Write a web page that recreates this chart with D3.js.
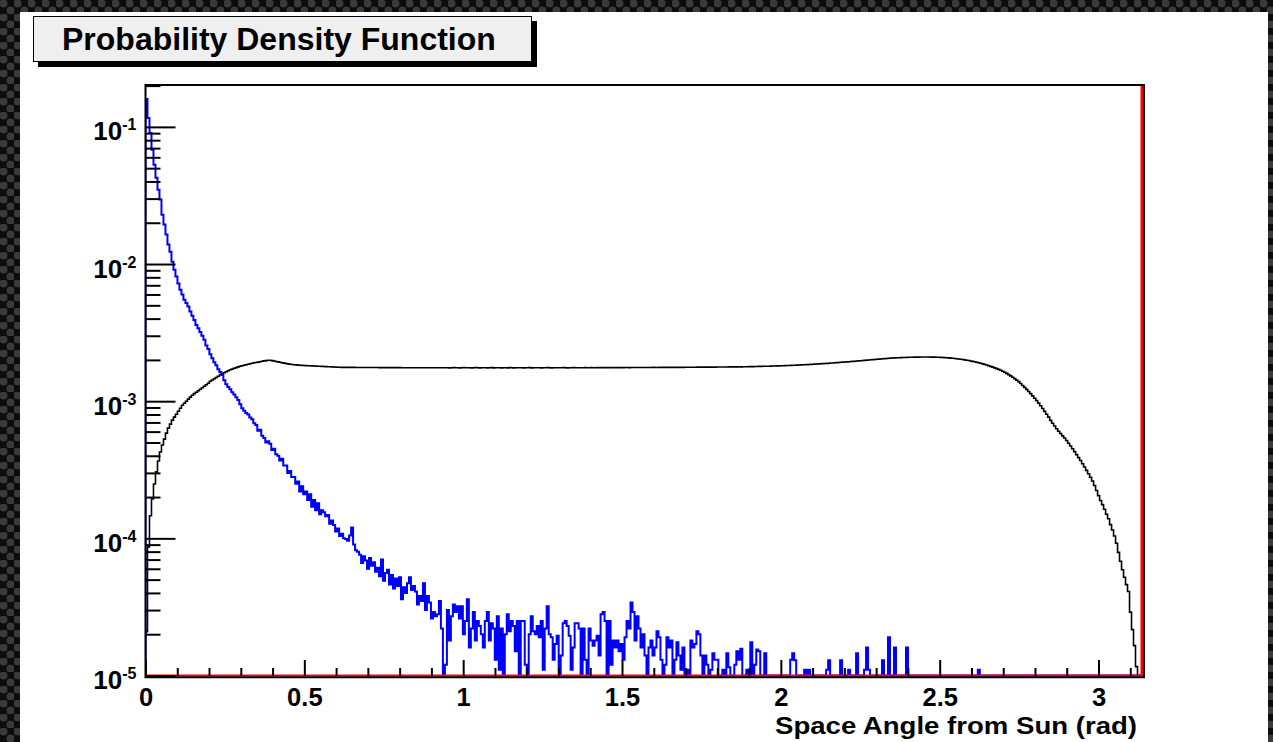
<!DOCTYPE html>
<html>
<head>
<meta charset="utf-8">
<script src="https://cdn.jsdelivr.net/npm/d3@7"></script>
<style>
  html, body { margin: 0; padding: 0; background: #000; }
  svg { display: block; }
  text { font-family: "Liberation Sans", Arial, Helvetica, sans-serif; font-weight: bold; fill: #000; }
</style>
</head>
<body>
<svg id="chart" width="1273" height="742"></svg>
<script>
// ---------------- data ----------------
const titleText = "Probability Density Function";
const xAxisTitle = "Space Angle from Sun (rad)";
const xDomain = [0, 3.1416];
const binCount = 500;

const xTickValues = [0, 0.5, 1, 1.5, 2, 2.5, 3];
const xTickLabels = ["0", "0.5", "1", "1.5", "2", "2.5", "3"];
const yDecadeExponents = [-5, -4, -3, -2, -1];
const yDomain = [1e-5, 0.202];

// black histogram: broad distribution over the full angle range
const blackPdf = [
  2.09e-5, 8.67e-5, 1.46e-4, 1.94e-4, 2.49e-4, 3.05e-4, 3.66e-4, 4.26e-4, 4.79e-4, 5.29e-4,
  5.85e-4, 6.36e-4, 6.80e-4, 7.28e-4, 7.65e-4, 8.04e-4, 8.45e-4, 8.89e-4, 9.35e-4, 9.67e-4,
  1.000e-3, 1.035e-3, 1.070e-3, 1.106e-3, 1.135e-3, 1.162e-3, 1.192e-3, 1.222e-3, 1.254e-3, 1.285e-3,
  1.318e-3, 1.352e-3, 1.397e-3, 1.426e-3, 1.458e-3, 1.487e-3, 1.520e-3, 1.559e-3, 1.585e-3, 1.611e-3,
  1.640e-3, 1.667e-3, 1.694e-3, 1.714e-3, 1.738e-3, 1.758e-3, 1.779e-3, 1.797e-3, 1.812e-3, 1.827e-3,
  1.842e-3, 1.858e-3, 1.874e-3, 1.890e-3, 1.906e-3, 1.915e-3, 1.928e-3, 1.941e-3, 1.954e-3, 1.967e-3,
  1.977e-3, 1.987e-3, 1.990e-3, 1.977e-3, 1.964e-3, 1.948e-3, 1.935e-3, 1.922e-3, 1.909e-3, 1.896e-3,
  1.883e-3, 1.871e-3, 1.858e-3, 1.852e-3, 1.846e-3, 1.840e-3, 1.833e-3, 1.827e-3, 1.824e-3, 1.821e-3,
  1.818e-3, 1.815e-3, 1.812e-3, 1.809e-3, 1.806e-3, 1.803e-3, 1.800e-3, 1.797e-3, 1.794e-3, 1.791e-3,
  1.788e-3, 1.785e-3, 1.782e-3, 1.779e-3, 1.776e-3, 1.773e-3, 1.770e-3, 1.767e-3, 1.765e-3, 1.765e-3,
  1.764e-3, 1.764e-3, 1.763e-3, 1.763e-3, 1.763e-3, 1.762e-3, 1.762e-3, 1.762e-3, 1.761e-3, 1.761e-3,
  1.761e-3, 1.760e-3, 1.760e-3, 1.760e-3, 1.759e-3, 1.759e-3, 1.759e-3, 1.758e-3, 1.758e-3, 1.758e-3,
  1.757e-3, 1.757e-3, 1.757e-3, 1.757e-3, 1.756e-3, 1.756e-3, 1.756e-3, 1.756e-3, 1.755e-3, 1.755e-3,
  1.755e-3, 1.755e-3, 1.755e-3, 1.754e-3, 1.754e-3, 1.754e-3, 1.754e-3, 1.754e-3, 1.754e-3, 1.753e-3,
  1.753e-3, 1.753e-3, 1.753e-3, 1.753e-3, 1.753e-3, 1.753e-3, 1.752e-3, 1.752e-3, 1.752e-3, 1.752e-3,
  1.752e-3, 1.755e-3, 1.750e-3, 1.753e-3, 1.757e-3, 1.751e-3, 1.754e-3, 1.749e-3, 1.753e-3, 1.756e-3,
  1.751e-3, 1.754e-3, 1.752e-3, 1.748e-3, 1.753e-3, 1.756e-3, 1.752e-3, 1.750e-3, 1.754e-3, 1.751e-3,
  1.755e-3, 1.749e-3, 1.752e-3, 1.756e-3, 1.750e-3, 1.753e-3, 1.751e-3, 1.755e-3, 1.748e-3, 1.752e-3,
  1.754e-3, 1.750e-3, 1.756e-3, 1.752e-3, 1.749e-3, 1.753e-3, 1.755e-3, 1.751e-3, 1.753e-3, 1.750e-3,
  1.754e-3, 1.752e-3, 1.757e-3, 1.750e-3, 1.753e-3, 1.751e-3, 1.755e-3, 1.752e-3, 1.749e-3, 1.754e-3,
  1.751e-3, 1.756e-3, 1.753e-3, 1.750e-3, 1.754e-3, 1.752e-3, 1.755e-3, 1.751e-3, 1.753e-3, 1.757e-3,
  1.752e-3, 1.750e-3, 1.754e-3, 1.753e-3, 1.756e-3, 1.751e-3, 1.754e-3, 1.752e-3, 1.755e-3, 1.753e-3,
  1.757e-3, 1.752e-3, 1.754e-3, 1.756e-3, 1.753e-3, 1.755e-3, 1.758e-3, 1.754e-3, 1.756e-3, 1.755e-3,
  1.757e-3, 1.754e-3, 1.758e-3, 1.756e-3, 1.755e-3, 1.759e-3, 1.757e-3, 1.756e-3, 1.760e-3, 1.758e-3,
  1.759e-3, 1.761e-3, 1.758e-3, 1.762e-3, 1.760e-3, 1.761e-3, 1.759e-3, 1.761e-3, 1.760e-3, 1.762e-3,
  1.760e-3, 1.762e-3, 1.759e-3, 1.761e-3, 1.763e-3, 1.760e-3, 1.762e-3, 1.764e-3, 1.761e-3, 1.763e-3,
  1.762e-3, 1.764e-3, 1.763e-3, 1.765e-3, 1.762e-3, 1.766e-3, 1.764e-3, 1.765e-3, 1.767e-3, 1.764e-3,
  1.766e-3, 1.768e-3, 1.766e-3, 1.769e-3, 1.767e-3, 1.769e-3, 1.771e-3, 1.768e-3, 1.771e-3, 1.770e-3,
  1.772e-3, 1.771e-3, 1.773e-3, 1.772e-3, 1.774e-3, 1.773e-3, 1.775e-3, 1.774e-3, 1.776e-3, 1.775e-3,
  1.777e-3, 1.776e-3, 1.778e-3, 1.777e-3, 1.779e-3, 1.778e-3, 1.780e-3, 1.781e-3, 1.780e-3, 1.782e-3,
  1.783e-3, 1.784e-3, 1.786e-3, 1.787e-3, 1.788e-3, 1.790e-3, 1.791e-3, 1.793e-3, 1.794e-3, 1.796e-3,
  1.797e-3, 1.799e-3, 1.800e-3, 1.802e-3, 1.804e-3, 1.806e-3, 1.808e-3, 1.810e-3, 1.812e-3, 1.814e-3,
  1.817e-3, 1.819e-3, 1.822e-3, 1.825e-3, 1.827e-3, 1.830e-3, 1.833e-3, 1.836e-3, 1.839e-3, 1.842e-3,
  1.846e-3, 1.849e-3, 1.852e-3, 1.856e-3, 1.860e-3, 1.863e-3, 1.867e-3, 1.871e-3, 1.875e-3, 1.879e-3,
  1.883e-3, 1.888e-3, 1.892e-3, 1.897e-3, 1.901e-3, 1.906e-3, 1.911e-3, 1.916e-3, 1.921e-3, 1.926e-3,
  1.931e-3, 1.936e-3, 1.941e-3, 1.947e-3, 1.952e-3, 1.957e-3, 1.963e-3, 1.968e-3, 1.974e-3, 1.979e-3,
  1.985e-3, 1.991e-3, 1.997e-3, 2.003e-3, 2.009e-3, 2.015e-3, 2.021e-3, 2.027e-3, 2.033e-3, 2.039e-3,
  2.045e-3, 2.050e-3, 2.055e-3, 2.060e-3, 2.064e-3, 2.068e-3, 2.072e-3, 2.075e-3, 2.078e-3, 2.081e-3,
  2.084e-3, 2.087e-3, 2.089e-3, 2.091e-3, 2.093e-3, 2.095e-3, 2.096e-3, 2.097e-3, 2.098e-3, 2.099e-3,
  2.099e-3, 2.099e-3, 2.098e-3, 2.097e-3, 2.096e-3, 2.094e-3, 2.092e-3, 2.089e-3, 2.086e-3, 2.082e-3,
  2.078e-3, 2.073e-3, 2.068e-3, 2.062e-3, 2.055e-3, 2.048e-3, 2.040e-3, 2.031e-3, 2.022e-3, 2.012e-3,
  2.001e-3, 1.990e-3, 1.978e-3, 1.965e-3, 1.951e-3, 1.937e-3, 1.922e-3, 1.906e-3, 1.889e-3, 1.871e-3,
  1.853e-3, 1.834e-3, 1.814e-3, 1.793e-3, 1.772e-3, 1.750e-3, 1.728e-3, 1.705e-3, 1.680e-3, 1.653e-3,
  1.624e-3, 1.594e-3, 1.562e-3, 1.530e-3, 1.496e-3, 1.461e-3, 1.425e-3, 1.388e-3, 1.345e-3, 1.303e-3,
  1.261e-3, 1.220e-3, 1.178e-3, 1.135e-3, 1.093e-3, 1.051e-3, 1.010e-3, 9.68e-4, 9.26e-4, 8.84e-4,
  8.43e-4, 8.03e-4, 7.65e-4, 7.25e-4, 6.90e-4, 6.60e-4, 6.30e-4, 6.03e-4, 5.81e-4, 5.59e-4,
  5.39e-4, 5.17e-4, 4.94e-4, 4.71e-4, 4.50e-4, 4.29e-4, 4.08e-4, 3.88e-4, 3.69e-4, 3.50e-4,
  3.31e-4, 3.13e-4, 2.96e-4, 2.79e-4, 2.62e-4, 2.43e-4, 2.23e-4, 2.05e-4, 1.89e-4, 1.76e-4,
  1.63e-4, 1.50e-4, 1.39e-4, 1.26e-4, 1.15e-4, 1.04e-4, 9.2e-5, 7.9e-5, 6.8e-5, 5.9e-5,
  5.2e-5, 4.6e-5, 4.1e-5, 2.9e-5, 2.16e-5, 1.65e-5, 1.16e-5, 8e-6, 5e-6, 2e-6
];

// blue histogram: sharply peaked towards the Sun, noisy tail
const bluePdf = [
  0.160, 0.116, 0.0904, 0.068, 0.053, 0.0426, 0.0348, 0.0295, 0.0229, 0.0194,
  0.0164, 0.0139, 0.0123, 0.0104, 0.0091, 0.0081, 0.0072, 0.0065, 0.0060, 0.0055,
  0.0052, 0.0049, 0.0045, 0.0042, 0.0039, 0.0036, 0.0034, 0.0032, 0.0030, 0.0028,
  0.00255, 0.0024, 0.0022, 0.00206, 0.00192, 0.00183, 0.00171, 0.00163, 0.00155, 0.00142,
  0.00133, 0.00127, 0.00122, 0.00116, 0.00112, 0.00107, 0.00102, 0.00095, 0.00089, 0.00085,
  0.00082, 0.00080, 0.00076, 0.00074, 0.00069, 0.00067, 0.00061, 0.00062, 0.00056, 0.00054,
  0.00050, 0.00051, 0.00049, 0.00044, 0.00045, 0.00041, 0.00040, 0.00037, 0.00038, 0.00034,
  0.00034, 0.00030, 0.00031, 0.00028, 0.00028, 0.00025, 0.00026, 0.00022, 0.00024, 0.00021,
  0.00022, 0.00019, 0.00021, 0.00017, 0.00019, 0.00016, 0.00018, 0.00015, 0.00016, 0.000155,
  0.000145, 0.000148, 0.000128, 0.000135, 0.000125, 0.000112, 0.000118, 0.000104, 0.000108, 0.000100,
  9.9e-5, 9.6e-5, 1.05e-4, 1.2e-4, 9.0e-5, 8.2e-5, 8.0e-5, 7.6e-5, 6.6e-5, 7.4e-5,
  6.9e-5, 6.0e-5, 7.2e-5, 6.3e-5, 6.7e-5, 5.7e-5, 6.1e-5, 5.3e-5, 7.0e-5, 4.9e-5,
  5.6e-5, 5.9e-5, 4.6e-5, 5.4e-5, 4.3e-5, 5.1e-5, 4.5e-5, 5.2e-5, 3.6e-5, 4.4e-5,
  4.0e-5, 4.7e-5, 5.2e-5, 4.2e-5, 4.5e-5, 4.1e-5, 3.3e-5, 3.8e-5, 3.5e-5, 4.7e-5,
  3.0e-5, 3.8e-5, 3.4e-5, 2.6e-5, 2.9e-5, 2.7e-5, 2.8e-5, 3.5e-5, 2.2e-5, 0,
  1.2e-5, 3.0e-5, 1.8e-5, 2.7e-5, 3.3e-5, 2.9e-5, 3.2e-5, 2.6e-5, 3.2e-5, 2.0e-5,
  2.5e-5, 3.6e-5, 1.6e-5, 2.2e-5, 2.9e-5, 1.8e-5, 2.5e-5, 2.3e-5, 2.0e-5, 1.6e-5,
  2.5e-5, 2.9e-5, 1.8e-5, 2.4e-5, 2.2e-5, 1.3e-5, 2.7e-5, 1.1e-5, 2.2e-5, 0,
  2.0e-5, 2.8e-5, 2.1e-5, 2.5e-5, 2.3e-5, 1.5e-5, 2.5e-5, 0, 2.5e-5, 2.5e-5,
  1.2e-5, 0, 2.0e-5, 2.7e-5, 2.1e-5, 2.0e-5, 2.3e-5, 1.9e-5, 2.5e-5, 1.1e-5,
  2.2e-5, 3.2e-5, 2.0e-5, 1.9e-5, 1.3e-5, 1.7e-5, 1.95e-5, 0, 1.4e-5, 2.4e-5,
  2.5e-5, 2.3e-5, 1.95e-5, 1.1e-5, 1.6e-5, 2.4e-5, 2.4e-5, 2.2e-5, 0, 2.2e-5,
  1.3e-5, 0, 2.2e-5, 1.8e-5, 1.65e-5, 1.8e-5, 1.95e-5, 1.4e-5, 2.8e-5, 2.9e-5,
  2.5e-5, 0, 2.5e-5, 1.2e-5, 1.8e-5, 1.6e-5, 1.8e-5, 1.5e-5, 1.7e-5, 1.3e-5,
  1.9e-5, 2.5e-5, 2.2e-5, 3.4e-5, 2.9e-5, 1.8e-5, 2.7e-5, 2.2e-5, 1.6e-5, 2.0e-5,
  1.4e-5, 0, 1.6e-5, 1.8e-5, 1.4e-5, 1.6e-5, 2.1e-5, 1.9e-5, 1.3e-5, 0,
  1.2e-5, 1.9e-5, 1.6e-5, 1.8e-5, 0, 1.3e-5, 1.75e-5, 1.4e-5, 1.1e-5, 1.6e-5,
  0, 1.1e-5, 0, 1.8e-5, 1.6e-5, 1.7e-5, 2.1e-5, 2.0e-5, 1.4e-5, 0,
  1.4e-5, 1.2e-5, 0, 1.1e-5, 1.45e-5, 1.3e-5, 1.3e-5, 0, 0, 1.1e-5,
  0, 1.45e-5, 1.15e-5, 0, 0, 1.2e-5, 1.5e-5, 1.3e-5, 1.57e-5, 0,
  0, 1.1e-5, 0, 1.75e-5, 0, 1.2e-5, 1.55e-5, 1.5e-5, 0, 0,
  1.45e-5, 0, 0, 0, 0, 0, 0, 0, 0, 0,
  0, 0, 0, 1.3e-5, 1.45e-5, 1.29e-5, 0, 0, 0, 0,
  1.1e-5, 0, 1.1e-5, 0, 0, 0, 0, 0, 0, 0,
  0, 1.1e-5, 1.29e-5, 0, 0, 0, 0, 0, 1.29e-5, 0,
  0, 0, 1.1e-5, 0, 0, 0, 1.45e-5, 0, 0, 0,
  1.1e-5, 1.6e-5, 1.1e-5, 0, 0, 0, 0, 0, 0, 1.29e-5,
  0, 0, 1.9e-5, 0, 0, 1.6e-5, 0, 0, 0, 0,
  0, 1.6e-5, 0, 0, 0, 0, 0, 0, 0, 0,
  0, 0, 0, 0, 0, 0, 0, 0, 0, 0,
  0, 0, 0, 0, 0, 0, 0, 0, 0, 0,
  0, 0, 0, 0, 0, 0, 0, 1.1e-5, 0, 0,
  0, 0, 0, 0, 0, 0, 0, 0, 0, 0,
  0, 0, 0, 0, 0, 0, 0, 0, 0, 0,
  0, 0, 0, 0, 0, 0, 0, 0, 0, 0,
  0, 0, 0, 0, 0, 0, 0, 0, 0, 0,
  0, 0, 0, 0, 0, 0, 0, 0, 0, 0,
  0, 0, 0, 0, 0, 0, 0, 0, 0, 0,
  0, 0, 0, 0, 0, 0, 0, 0, 0, 0,
  0, 0, 0, 0, 0, 0, 0, 0, 0, 0
];

// red histogram: empty except for its last bin at the anti-solar end
const redEdges = [0, 3.1353, 3.1416];
const redPdf = [0, 1.0];

if (blackPdf.length !== binCount || bluePdf.length !== binCount) {
  throw new Error("bin count mismatch: " + blackPdf.length + " / " + bluePdf.length);
}

// ---------------- layout ----------------
const W = 1273, H = 742;
const frame = { left: 145.5, right: 1143.5, top: 85, bottom: 675.5 };
const axisLineY = 677.3;

const svg = d3.select("#chart");
const defs = svg.append("defs");

// perforated dark backdrop around the canvas
const pat = defs.append("pattern")
  .attr("id", "holes").attr("patternUnits", "userSpaceOnUse")
  .attr("width", 14).attr("height", 14);
pat.append("rect").attr("width", 14).attr("height", 14).attr("fill", "#0c0c0c");
pat.append("circle").attr("cx", 3.5).attr("cy", 3.5).attr("r", 4).attr("fill", "#3a3a3a");
pat.append("circle").attr("cx", 10.5).attr("cy", 10.5).attr("r", 4).attr("fill", "#3a3a3a");

svg.append("rect").attr("width", W).attr("height", H).attr("fill", "url(#holes)");
svg.append("rect").attr("x", 20).attr("y", 12).attr("width", 1248).attr("height", H - 12).attr("fill", "#fff");

defs.append("clipPath").attr("id", "plotClip")
  .append("rect")
  .attr("x", frame.left).attr("y", frame.top)
  .attr("width", frame.right - frame.left).attr("height", frame.bottom - frame.top + 1.5);

// ---------------- scales ----------------
const x = d3.scaleLinear().domain(xDomain).range([frame.left, frame.right]);
const y = d3.scaleLog().domain(yDomain).range([frame.bottom, frame.top]);

const binEdges = d3.range(binCount + 1).map(i => xDomain[0] + i * (xDomain[1] - xDomain[0]) / binCount);

function stepPath(edges, values) {
  const yb = frame.bottom;
  const ytop = frame.top - 40;
  const py = v => (v <= yDomain[0] ? yb : Math.max(ytop, y(v)));
  let d = "M" + x(edges[0]) + "," + yb;
  values.forEach((v, i) => {
    d += "V" + py(v) + "H" + x(edges[i + 1]);
  });
  d += "V" + yb;
  return d;
}

const plot = svg.append("g").attr("clip-path", "url(#plotClip)");

plot.append("path")
  .attr("d", stepPath(binEdges, blackPdf))
  .attr("fill", "none").attr("stroke", "#000").attr("stroke-width", 1.6);

plot.append("path")
  .attr("d", stepPath(binEdges, bluePdf))
  .attr("fill", "none").attr("stroke", "#0000ff").attr("stroke-width", 2);

plot.append("path")
  .attr("d", stepPath(redEdges, redPdf))
  .attr("fill", "none").attr("stroke", "#ff0000").attr("stroke-width", 2);

// ---------------- axes ----------------
const xMinorTicks = d3.range(0, 32).map(i => i / 10).filter(v => v <= xDomain[1] && Math.abs(v * 2 - Math.round(v * 2)) > 1e-9);

const xAxisG = svg.append("g").attr("transform", "translate(0," + (frame.bottom + 0.5) + ")");
xAxisG.call(d3.axisBottom(x).tickValues(xMinorTicks).tickSize(-8).tickFormat(""))
  .call(g => g.select(".domain").remove());
xAxisG.append("g").call(d3.axisBottom(x).tickValues(xTickValues).tickSize(-16)
    .tickFormat((d, i) => xTickLabels[i]))
  .call(g => g.select(".domain").remove())
  .call(g => g.selectAll("text")
    .attr("y", 29.5).attr("dy", 0)
    .style("font-size", "25.5px").style("font-family", null).attr("fill", "#000"));
xAxisG.selectAll("line").attr("stroke", "#000").attr("stroke-width", 2);

const yMinorTicks = y.ticks().filter(v => Math.abs(Math.log10(v) - Math.round(Math.log10(v))) > 1e-6);
const yMajorTicks = yDecadeExponents.map(e => Math.pow(10, e));

const yAxisG = svg.append("g").attr("transform", "translate(" + frame.left + ",0)");
yAxisG.call(d3.axisLeft(y).tickValues(yMinorTicks).tickSize(-15).tickFormat(""))
  .call(g => g.select(".domain").remove());
const yMajorG = yAxisG.append("g");
yMajorG.call(d3.axisLeft(y).tickValues(yMajorTicks).tickSize(-30).tickFormat(""))
  .call(g => g.select(".domain").remove());
yAxisG.selectAll("line").attr("stroke", "#000").attr("stroke-width", 2);

// "10^k" labels for the decades
yMajorG.selectAll(".tick").each(function (d, i) {
  const t = d3.select(this).append("text")
    .attr("x", -9).attr("y", 13).attr("text-anchor", "end")
    .style("font-size", "26px").attr("fill", "#000");
  t.append("tspan").text("10");
  t.append("tspan").attr("dy", -10).style("font-size", "16px").text(String(yDecadeExponents[i]));
});

// frame: left/top/right edges and the bottom axis line
svg.append("path")
  .attr("d", "M" + frame.left + "," + axisLineY + "V" + frame.top + "H" + (frame.right + 0.5) + "V" + axisLineY + "Z")
  .attr("fill", "none").attr("stroke", "#000").attr("stroke-width", 2);

// axis title
svg.append("text")
  .attr("x", 1137).attr("y", 734).attr("text-anchor", "end")
  .style("font-size", "24.5px")
  .attr("textLength", 362).attr("lengthAdjust", "spacingAndGlyphs")
  .text(xAxisTitle);

// title box with drop shadow
svg.append("rect").attr("x", 38).attr("y", 21).attr("width", 499).attr("height", 46).attr("fill", "#000");
svg.append("rect").attr("x", 33.5).attr("y", 16.5).attr("width", 498).attr("height", 45)
  .attr("fill", "#efefef").attr("stroke", "#000").attr("stroke-width", 1);
svg.append("text").attr("x", 62).attr("y", 50).style("font-size", "32px").text(titleText);
</script>
</body>
</html>
